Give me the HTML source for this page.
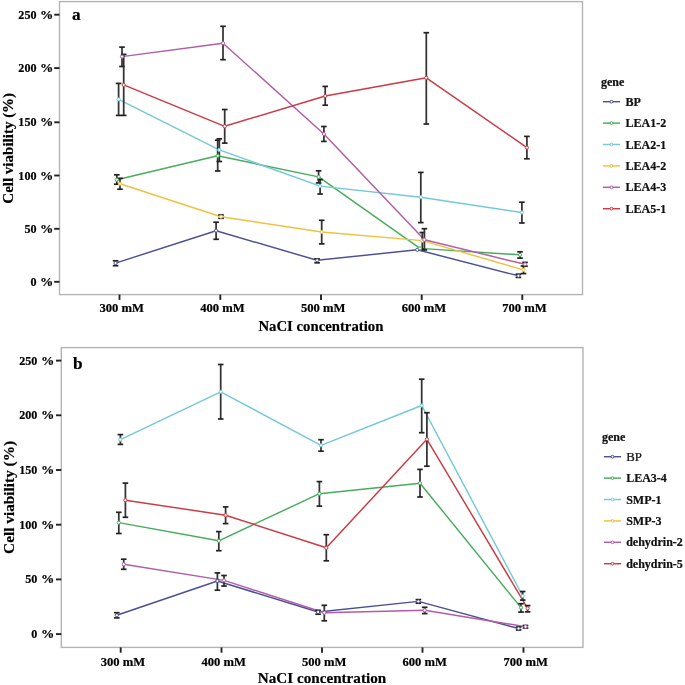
<!DOCTYPE html>
<html><head><meta charset="utf-8"><title>Cell viability chart</title>
<style>
html,body{margin:0;padding:0;background:#fff;}
body{width:685px;height:685px;overflow:hidden;font-family:"Liberation Serif",serif;}
svg{display:block;will-change:transform;}
text{stroke:#000;stroke-width:0.2px;}
</style></head>
<body>
<svg width="685" height="685" viewBox="0 0 685 685">
<rect x="0" y="0" width="685" height="685" fill="#fff"/>
<rect x="59.5" y="1.6" width="523.0" height="293.0" fill="#fff" stroke="#b4b4b4" stroke-width="1.4"/>
<line x1="54.2" y1="14.7" x2="59.5" y2="14.7" stroke="#222" stroke-width="1.9"/>
<text x="36.5" y="18.7" text-anchor="end" font-size="12.1" font-family="Liberation Serif" font-weight="bold" fill="#000">250</text>
<text transform="translate(53.2,18.7) scale(1.1,1)" x="0" y="0" text-anchor="end" font-size="12.1" font-family="Liberation Serif" font-weight="bold" fill="#000">%</text>
<line x1="54.2" y1="68.1" x2="59.5" y2="68.1" stroke="#222" stroke-width="1.9"/>
<text x="36.5" y="72.1" text-anchor="end" font-size="12.1" font-family="Liberation Serif" font-weight="bold" fill="#000">200</text>
<text transform="translate(53.2,72.1) scale(1.1,1)" x="0" y="0" text-anchor="end" font-size="12.1" font-family="Liberation Serif" font-weight="bold" fill="#000">%</text>
<line x1="54.2" y1="122.3" x2="59.5" y2="122.3" stroke="#222" stroke-width="1.9"/>
<text x="36.5" y="126.3" text-anchor="end" font-size="12.1" font-family="Liberation Serif" font-weight="bold" fill="#000">150</text>
<text transform="translate(53.2,126.3) scale(1.1,1)" x="0" y="0" text-anchor="end" font-size="12.1" font-family="Liberation Serif" font-weight="bold" fill="#000">%</text>
<line x1="54.2" y1="175.5" x2="59.5" y2="175.5" stroke="#222" stroke-width="1.9"/>
<text x="36.5" y="179.5" text-anchor="end" font-size="12.1" font-family="Liberation Serif" font-weight="bold" fill="#000">100</text>
<text transform="translate(53.2,179.5) scale(1.1,1)" x="0" y="0" text-anchor="end" font-size="12.1" font-family="Liberation Serif" font-weight="bold" fill="#000">%</text>
<line x1="54.2" y1="228.8" x2="59.5" y2="228.8" stroke="#222" stroke-width="1.9"/>
<text x="36.5" y="232.8" text-anchor="end" font-size="12.1" font-family="Liberation Serif" font-weight="bold" fill="#000">50</text>
<text transform="translate(53.2,232.8) scale(1.1,1)" x="0" y="0" text-anchor="end" font-size="12.1" font-family="Liberation Serif" font-weight="bold" fill="#000">%</text>
<line x1="54.2" y1="281.8" x2="59.5" y2="281.8" stroke="#222" stroke-width="1.9"/>
<text x="36.5" y="285.8" text-anchor="end" font-size="12.1" font-family="Liberation Serif" font-weight="bold" fill="#000">0</text>
<text transform="translate(53.2,285.8) scale(1.1,1)" x="0" y="0" text-anchor="end" font-size="12.1" font-family="Liberation Serif" font-weight="bold" fill="#000">%</text>
<line x1="119.5" y1="294.6" x2="119.5" y2="299.90000000000003" stroke="#222" stroke-width="1.9"/>
<text x="121.7" y="312.2" text-anchor="middle" font-size="12.1" textLength="44.5" lengthAdjust="spacingAndGlyphs" font-family="Liberation Serif" font-weight="bold" fill="#000">300 mM</text>
<line x1="220.3" y1="294.6" x2="220.3" y2="299.90000000000003" stroke="#222" stroke-width="1.9"/>
<text x="222.5" y="312.2" text-anchor="middle" font-size="12.1" textLength="44.5" lengthAdjust="spacingAndGlyphs" font-family="Liberation Serif" font-weight="bold" fill="#000">400 mM</text>
<line x1="321.0" y1="294.6" x2="321.0" y2="299.90000000000003" stroke="#222" stroke-width="1.9"/>
<text x="323.2" y="312.2" text-anchor="middle" font-size="12.1" textLength="44.5" lengthAdjust="spacingAndGlyphs" font-family="Liberation Serif" font-weight="bold" fill="#000">500 mM</text>
<line x1="421.7" y1="294.6" x2="421.7" y2="299.90000000000003" stroke="#222" stroke-width="1.9"/>
<text x="423.9" y="312.2" text-anchor="middle" font-size="12.1" textLength="44.5" lengthAdjust="spacingAndGlyphs" font-family="Liberation Serif" font-weight="bold" fill="#000">600 mM</text>
<line x1="522.3" y1="294.6" x2="522.3" y2="299.90000000000003" stroke="#222" stroke-width="1.9"/>
<text x="524.5" y="312.2" text-anchor="middle" font-size="12.1" textLength="44.5" lengthAdjust="spacingAndGlyphs" font-family="Liberation Serif" font-weight="bold" fill="#000">700 mM</text>
<text x="320.9" y="331.0" text-anchor="middle" font-size="14.75" font-family="Liberation Serif" font-weight="bold" fill="#000">NaCI concentration</text>
<text transform="translate(13.0,148.3) rotate(-90)" x="0" y="0" text-anchor="middle" font-size="15.0" font-family="Liberation Serif" font-weight="bold" fill="#000">Cell viability (%)</text>
<text x="72.0" y="20.0" font-size="17.3" font-family="Liberation Serif" font-weight="bold" fill="#000">a</text>
<polyline points="115.6,263.1 216.1,230.7 317.1,260.3 417.3,249.8 518.4,275.8" fill="none" stroke="#4c5096" stroke-width="1.45" stroke-linejoin="round"/>
<polyline points="116.8,179.7 217.7,155.8 318.6,176.9 420.0,248.4 520.0,254.8" fill="none" stroke="#48ac5c" stroke-width="1.45" stroke-linejoin="round"/>
<polyline points="118.6,99.4 219.3,149.9 320.1,186.1 420.8,197.2 521.9,212.5" fill="none" stroke="#74c8d8" stroke-width="1.45" stroke-linejoin="round"/>
<polyline points="120.0,183.7 221.0,216.7 321.7,232.0 422.3,240.6 523.5,269.9" fill="none" stroke="#f0c040" stroke-width="1.45" stroke-linejoin="round"/>
<polyline points="122.0,56.6 223.0,43.2 323.9,134.0 424.4,239.7 525.0,264.3" fill="none" stroke="#b25ca6" stroke-width="1.45" stroke-linejoin="round"/>
<polyline points="123.7,84.9 224.7,126.3 325.2,96.0 426.3,77.8 526.9,147.6" fill="none" stroke="#cc3a44" stroke-width="1.45" stroke-linejoin="round"/>
<line x1="115.6" y1="260.8" x2="115.6" y2="265.7" stroke="#333" stroke-width="1.75"/>
<line x1="112.8" y1="260.8" x2="118.39999999999999" y2="260.8" stroke="#222" stroke-width="1.7"/>
<line x1="112.8" y1="265.7" x2="118.39999999999999" y2="265.7" stroke="#222" stroke-width="1.7"/>
<line x1="216.1" y1="222.2" x2="216.1" y2="239.3" stroke="#333" stroke-width="1.75"/>
<line x1="213.29999999999998" y1="222.2" x2="218.9" y2="222.2" stroke="#222" stroke-width="1.7"/>
<line x1="213.29999999999998" y1="239.3" x2="218.9" y2="239.3" stroke="#222" stroke-width="1.7"/>
<line x1="317.1" y1="258.9" x2="317.1" y2="262.8" stroke="#333" stroke-width="1.75"/>
<line x1="314.3" y1="258.9" x2="319.90000000000003" y2="258.9" stroke="#222" stroke-width="1.7"/>
<line x1="314.3" y1="262.8" x2="319.90000000000003" y2="262.8" stroke="#222" stroke-width="1.7"/>
<line x1="518.4" y1="274.2" x2="518.4" y2="277.4" stroke="#333" stroke-width="1.75"/>
<line x1="515.6" y1="274.2" x2="521.1999999999999" y2="274.2" stroke="#222" stroke-width="1.7"/>
<line x1="515.6" y1="277.4" x2="521.1999999999999" y2="277.4" stroke="#222" stroke-width="1.7"/>
<line x1="116.8" y1="174.8" x2="116.8" y2="184.2" stroke="#333" stroke-width="1.75"/>
<line x1="114.0" y1="174.8" x2="119.6" y2="174.8" stroke="#222" stroke-width="1.7"/>
<line x1="114.0" y1="184.2" x2="119.6" y2="184.2" stroke="#222" stroke-width="1.7"/>
<line x1="217.7" y1="140.2" x2="217.7" y2="171.0" stroke="#333" stroke-width="1.75"/>
<line x1="214.89999999999998" y1="140.2" x2="220.5" y2="140.2" stroke="#222" stroke-width="1.7"/>
<line x1="214.89999999999998" y1="171.0" x2="220.5" y2="171.0" stroke="#222" stroke-width="1.7"/>
<line x1="318.6" y1="170.8" x2="318.6" y2="182.9" stroke="#333" stroke-width="1.75"/>
<line x1="315.8" y1="170.8" x2="321.40000000000003" y2="170.8" stroke="#222" stroke-width="1.7"/>
<line x1="315.8" y1="182.9" x2="321.40000000000003" y2="182.9" stroke="#222" stroke-width="1.7"/>
<line x1="520.0" y1="251.8" x2="520.0" y2="258.1" stroke="#333" stroke-width="1.75"/>
<line x1="517.2" y1="251.8" x2="522.8" y2="251.8" stroke="#222" stroke-width="1.7"/>
<line x1="517.2" y1="258.1" x2="522.8" y2="258.1" stroke="#222" stroke-width="1.7"/>
<line x1="118.6" y1="83.4" x2="118.6" y2="115.4" stroke="#333" stroke-width="1.75"/>
<line x1="115.8" y1="83.4" x2="121.39999999999999" y2="83.4" stroke="#222" stroke-width="1.7"/>
<line x1="115.8" y1="115.4" x2="121.39999999999999" y2="115.4" stroke="#222" stroke-width="1.7"/>
<line x1="219.3" y1="138.8" x2="219.3" y2="161.5" stroke="#333" stroke-width="1.75"/>
<line x1="216.5" y1="138.8" x2="222.10000000000002" y2="138.8" stroke="#222" stroke-width="1.7"/>
<line x1="216.5" y1="161.5" x2="222.10000000000002" y2="161.5" stroke="#222" stroke-width="1.7"/>
<line x1="320.1" y1="179.6" x2="320.1" y2="194.0" stroke="#333" stroke-width="1.75"/>
<line x1="317.3" y1="179.6" x2="322.90000000000003" y2="179.6" stroke="#222" stroke-width="1.7"/>
<line x1="317.3" y1="194.0" x2="322.90000000000003" y2="194.0" stroke="#222" stroke-width="1.7"/>
<line x1="420.8" y1="172.4" x2="420.8" y2="222.6" stroke="#333" stroke-width="1.75"/>
<line x1="418.0" y1="172.4" x2="423.6" y2="172.4" stroke="#222" stroke-width="1.7"/>
<line x1="418.0" y1="222.6" x2="423.6" y2="222.6" stroke="#222" stroke-width="1.7"/>
<line x1="521.9" y1="202.2" x2="521.9" y2="223.0" stroke="#333" stroke-width="1.75"/>
<line x1="519.1" y1="202.2" x2="524.6999999999999" y2="202.2" stroke="#222" stroke-width="1.7"/>
<line x1="519.1" y1="223.0" x2="524.6999999999999" y2="223.0" stroke="#222" stroke-width="1.7"/>
<line x1="120.0" y1="178.3" x2="120.0" y2="189.2" stroke="#333" stroke-width="1.75"/>
<line x1="117.2" y1="178.3" x2="122.8" y2="178.3" stroke="#222" stroke-width="1.7"/>
<line x1="117.2" y1="189.2" x2="122.8" y2="189.2" stroke="#222" stroke-width="1.7"/>
<line x1="221.0" y1="215.0" x2="221.0" y2="218.3" stroke="#333" stroke-width="1.75"/>
<line x1="218.2" y1="215.0" x2="223.8" y2="215.0" stroke="#222" stroke-width="1.7"/>
<line x1="218.2" y1="218.3" x2="223.8" y2="218.3" stroke="#222" stroke-width="1.7"/>
<line x1="321.7" y1="220.3" x2="321.7" y2="243.9" stroke="#333" stroke-width="1.75"/>
<line x1="318.9" y1="220.3" x2="324.5" y2="220.3" stroke="#222" stroke-width="1.7"/>
<line x1="318.9" y1="243.9" x2="324.5" y2="243.9" stroke="#222" stroke-width="1.7"/>
<line x1="422.3" y1="232.5" x2="422.3" y2="249.0" stroke="#333" stroke-width="1.75"/>
<line x1="419.5" y1="232.5" x2="425.1" y2="232.5" stroke="#222" stroke-width="1.7"/>
<line x1="419.5" y1="249.0" x2="425.1" y2="249.0" stroke="#222" stroke-width="1.7"/>
<line x1="523.5" y1="266.0" x2="523.5" y2="273.6" stroke="#333" stroke-width="1.75"/>
<line x1="520.7" y1="266.0" x2="526.3" y2="266.0" stroke="#222" stroke-width="1.7"/>
<line x1="520.7" y1="273.6" x2="526.3" y2="273.6" stroke="#222" stroke-width="1.7"/>
<line x1="122.0" y1="47.1" x2="122.0" y2="66.5" stroke="#333" stroke-width="1.75"/>
<line x1="119.2" y1="47.1" x2="124.8" y2="47.1" stroke="#222" stroke-width="1.7"/>
<line x1="119.2" y1="66.5" x2="124.8" y2="66.5" stroke="#222" stroke-width="1.7"/>
<line x1="223.0" y1="26.3" x2="223.0" y2="59.7" stroke="#333" stroke-width="1.75"/>
<line x1="220.2" y1="26.3" x2="225.8" y2="26.3" stroke="#222" stroke-width="1.7"/>
<line x1="220.2" y1="59.7" x2="225.8" y2="59.7" stroke="#222" stroke-width="1.7"/>
<line x1="323.9" y1="126.5" x2="323.9" y2="141.4" stroke="#333" stroke-width="1.75"/>
<line x1="321.09999999999997" y1="126.5" x2="326.7" y2="126.5" stroke="#222" stroke-width="1.7"/>
<line x1="321.09999999999997" y1="141.4" x2="326.7" y2="141.4" stroke="#222" stroke-width="1.7"/>
<line x1="424.4" y1="228.7" x2="424.4" y2="250.0" stroke="#333" stroke-width="1.75"/>
<line x1="421.59999999999997" y1="228.7" x2="427.2" y2="228.7" stroke="#222" stroke-width="1.7"/>
<line x1="421.59999999999997" y1="250.0" x2="427.2" y2="250.0" stroke="#222" stroke-width="1.7"/>
<line x1="525.0" y1="262.4" x2="525.0" y2="266.2" stroke="#333" stroke-width="1.75"/>
<line x1="522.2" y1="262.4" x2="527.8" y2="262.4" stroke="#222" stroke-width="1.7"/>
<line x1="522.2" y1="266.2" x2="527.8" y2="266.2" stroke="#222" stroke-width="1.7"/>
<line x1="123.7" y1="54.4" x2="123.7" y2="115.4" stroke="#333" stroke-width="1.75"/>
<line x1="120.9" y1="54.4" x2="126.5" y2="54.4" stroke="#222" stroke-width="1.7"/>
<line x1="120.9" y1="115.4" x2="126.5" y2="115.4" stroke="#222" stroke-width="1.7"/>
<line x1="224.7" y1="109.5" x2="224.7" y2="143.1" stroke="#333" stroke-width="1.75"/>
<line x1="221.89999999999998" y1="109.5" x2="227.5" y2="109.5" stroke="#222" stroke-width="1.7"/>
<line x1="221.89999999999998" y1="143.1" x2="227.5" y2="143.1" stroke="#222" stroke-width="1.7"/>
<line x1="325.2" y1="86.4" x2="325.2" y2="105.2" stroke="#333" stroke-width="1.75"/>
<line x1="322.4" y1="86.4" x2="328.0" y2="86.4" stroke="#222" stroke-width="1.7"/>
<line x1="322.4" y1="105.2" x2="328.0" y2="105.2" stroke="#222" stroke-width="1.7"/>
<line x1="426.3" y1="32.7" x2="426.3" y2="124.0" stroke="#333" stroke-width="1.75"/>
<line x1="423.5" y1="32.7" x2="429.1" y2="32.7" stroke="#222" stroke-width="1.7"/>
<line x1="423.5" y1="124.0" x2="429.1" y2="124.0" stroke="#222" stroke-width="1.7"/>
<line x1="526.9" y1="136.4" x2="526.9" y2="158.8" stroke="#333" stroke-width="1.75"/>
<line x1="524.1" y1="136.4" x2="529.6999999999999" y2="136.4" stroke="#222" stroke-width="1.7"/>
<line x1="524.1" y1="158.8" x2="529.6999999999999" y2="158.8" stroke="#222" stroke-width="1.7"/>
<circle cx="115.6" cy="263.1" r="1.6" fill="#fff" stroke="#4c5096" stroke-width="1.0"/>
<circle cx="216.1" cy="230.7" r="1.6" fill="#fff" stroke="#4c5096" stroke-width="1.0"/>
<circle cx="317.1" cy="260.3" r="1.6" fill="#fff" stroke="#4c5096" stroke-width="1.0"/>
<circle cx="417.3" cy="249.8" r="1.6" fill="#fff" stroke="#4c5096" stroke-width="1.0"/>
<circle cx="518.4" cy="275.8" r="1.6" fill="#fff" stroke="#4c5096" stroke-width="1.0"/>
<circle cx="116.8" cy="179.7" r="1.6" fill="#fff" stroke="#48ac5c" stroke-width="1.0"/>
<circle cx="217.7" cy="155.8" r="1.6" fill="#fff" stroke="#48ac5c" stroke-width="1.0"/>
<circle cx="318.6" cy="176.9" r="1.6" fill="#fff" stroke="#48ac5c" stroke-width="1.0"/>
<circle cx="420.0" cy="248.4" r="1.6" fill="#fff" stroke="#48ac5c" stroke-width="1.0"/>
<circle cx="520.0" cy="254.8" r="1.6" fill="#fff" stroke="#48ac5c" stroke-width="1.0"/>
<circle cx="118.6" cy="99.4" r="1.6" fill="#fff" stroke="#74c8d8" stroke-width="1.0"/>
<circle cx="219.3" cy="149.9" r="1.6" fill="#fff" stroke="#74c8d8" stroke-width="1.0"/>
<circle cx="320.1" cy="186.1" r="1.6" fill="#fff" stroke="#74c8d8" stroke-width="1.0"/>
<circle cx="420.8" cy="197.2" r="1.6" fill="#fff" stroke="#74c8d8" stroke-width="1.0"/>
<circle cx="521.9" cy="212.5" r="1.6" fill="#fff" stroke="#74c8d8" stroke-width="1.0"/>
<circle cx="120.0" cy="183.7" r="1.6" fill="#fff" stroke="#f0c040" stroke-width="1.0"/>
<circle cx="221.0" cy="216.7" r="1.6" fill="#fff" stroke="#f0c040" stroke-width="1.0"/>
<circle cx="321.7" cy="232.0" r="1.6" fill="#fff" stroke="#f0c040" stroke-width="1.0"/>
<circle cx="422.3" cy="240.6" r="1.6" fill="#fff" stroke="#f0c040" stroke-width="1.0"/>
<circle cx="523.5" cy="269.9" r="1.6" fill="#fff" stroke="#f0c040" stroke-width="1.0"/>
<circle cx="122.0" cy="56.6" r="1.6" fill="#fff" stroke="#b25ca6" stroke-width="1.0"/>
<circle cx="223.0" cy="43.2" r="1.6" fill="#fff" stroke="#b25ca6" stroke-width="1.0"/>
<circle cx="323.9" cy="134.0" r="1.6" fill="#fff" stroke="#b25ca6" stroke-width="1.0"/>
<circle cx="424.4" cy="239.7" r="1.6" fill="#fff" stroke="#b25ca6" stroke-width="1.0"/>
<circle cx="525.0" cy="264.3" r="1.6" fill="#fff" stroke="#b25ca6" stroke-width="1.0"/>
<circle cx="123.7" cy="84.9" r="1.6" fill="#fff" stroke="#cc3a44" stroke-width="1.0"/>
<circle cx="224.7" cy="126.3" r="1.6" fill="#fff" stroke="#cc3a44" stroke-width="1.0"/>
<circle cx="325.2" cy="96.0" r="1.6" fill="#fff" stroke="#cc3a44" stroke-width="1.0"/>
<circle cx="426.3" cy="77.8" r="1.6" fill="#fff" stroke="#cc3a44" stroke-width="1.0"/>
<circle cx="526.9" cy="147.6" r="1.6" fill="#fff" stroke="#cc3a44" stroke-width="1.0"/>
<text x="601.0" y="85.8" font-size="12" font-family="Liberation Serif" font-weight="bold" fill="#111">gene</text>
<line x1="602.9" y1="101.7" x2="620.1" y2="101.7" stroke="#4c5096" stroke-width="1.45"/>
<circle cx="611.5" cy="101.7" r="1.4" fill="#fff" stroke="#4c5096" stroke-width="1.0"/>
<text x="625.5" y="105.8" font-size="12" font-family="Liberation Serif" font-weight="bold" fill="#111">BP</text>
<line x1="602.9" y1="123.1" x2="620.1" y2="123.1" stroke="#48ac5c" stroke-width="1.45"/>
<circle cx="611.5" cy="123.1" r="1.4" fill="#fff" stroke="#48ac5c" stroke-width="1.0"/>
<text x="625.5" y="127.19999999999999" font-size="12" font-family="Liberation Serif" font-weight="bold" fill="#111">LEA1-2</text>
<line x1="602.9" y1="144.5" x2="620.1" y2="144.5" stroke="#74c8d8" stroke-width="1.45"/>
<circle cx="611.5" cy="144.5" r="1.4" fill="#fff" stroke="#74c8d8" stroke-width="1.0"/>
<text x="625.5" y="148.6" font-size="12" font-family="Liberation Serif" font-weight="bold" fill="#111">LEA2-1</text>
<line x1="602.9" y1="165.9" x2="620.1" y2="165.9" stroke="#f0c040" stroke-width="1.45"/>
<circle cx="611.5" cy="165.9" r="1.4" fill="#fff" stroke="#f0c040" stroke-width="1.0"/>
<text x="625.5" y="170.0" font-size="12" font-family="Liberation Serif" font-weight="bold" fill="#111">LEA4-2</text>
<line x1="602.9" y1="187.29999999999998" x2="620.1" y2="187.29999999999998" stroke="#b25ca6" stroke-width="1.45"/>
<circle cx="611.5" cy="187.29999999999998" r="1.4" fill="#fff" stroke="#b25ca6" stroke-width="1.0"/>
<text x="625.5" y="191.39999999999998" font-size="12" font-family="Liberation Serif" font-weight="bold" fill="#111">LEA4-3</text>
<line x1="602.9" y1="208.70000000000002" x2="620.1" y2="208.70000000000002" stroke="#cc3a44" stroke-width="1.45"/>
<circle cx="611.5" cy="208.70000000000002" r="1.4" fill="#fff" stroke="#cc3a44" stroke-width="1.0"/>
<text x="625.5" y="212.8" font-size="12" font-family="Liberation Serif" font-weight="bold" fill="#111">LEA5-1</text>
<rect x="61.3" y="347.6" width="521.7" height="299.79999999999995" fill="#fff" stroke="#b4b4b4" stroke-width="1.4"/>
<line x1="56.0" y1="360.6" x2="61.3" y2="360.6" stroke="#222" stroke-width="1.9"/>
<text x="37.3" y="364.6" text-anchor="end" font-size="12.1" font-family="Liberation Serif" font-weight="bold" fill="#000">250</text>
<text transform="translate(54.3,364.6) scale(1.1,1)" x="0" y="0" text-anchor="end" font-size="12.1" font-family="Liberation Serif" font-weight="bold" fill="#000">%</text>
<line x1="56.0" y1="415.3" x2="61.3" y2="415.3" stroke="#222" stroke-width="1.9"/>
<text x="37.3" y="419.3" text-anchor="end" font-size="12.1" font-family="Liberation Serif" font-weight="bold" fill="#000">200</text>
<text transform="translate(54.3,419.3) scale(1.1,1)" x="0" y="0" text-anchor="end" font-size="12.1" font-family="Liberation Serif" font-weight="bold" fill="#000">%</text>
<line x1="56.0" y1="470.0" x2="61.3" y2="470.0" stroke="#222" stroke-width="1.9"/>
<text x="37.3" y="474.0" text-anchor="end" font-size="12.1" font-family="Liberation Serif" font-weight="bold" fill="#000">150</text>
<text transform="translate(54.3,474.0) scale(1.1,1)" x="0" y="0" text-anchor="end" font-size="12.1" font-family="Liberation Serif" font-weight="bold" fill="#000">%</text>
<line x1="56.0" y1="524.7" x2="61.3" y2="524.7" stroke="#222" stroke-width="1.9"/>
<text x="37.3" y="528.7" text-anchor="end" font-size="12.1" font-family="Liberation Serif" font-weight="bold" fill="#000">100</text>
<text transform="translate(54.3,528.7) scale(1.1,1)" x="0" y="0" text-anchor="end" font-size="12.1" font-family="Liberation Serif" font-weight="bold" fill="#000">%</text>
<line x1="56.0" y1="579.4" x2="61.3" y2="579.4" stroke="#222" stroke-width="1.9"/>
<text x="37.3" y="583.4" text-anchor="end" font-size="12.1" font-family="Liberation Serif" font-weight="bold" fill="#000">50</text>
<text transform="translate(54.3,583.4) scale(1.1,1)" x="0" y="0" text-anchor="end" font-size="12.1" font-family="Liberation Serif" font-weight="bold" fill="#000">%</text>
<line x1="56.0" y1="634.1" x2="61.3" y2="634.1" stroke="#222" stroke-width="1.9"/>
<text x="37.3" y="638.1" text-anchor="end" font-size="12.1" font-family="Liberation Serif" font-weight="bold" fill="#000">0</text>
<text transform="translate(54.3,638.1) scale(1.1,1)" x="0" y="0" text-anchor="end" font-size="12.1" font-family="Liberation Serif" font-weight="bold" fill="#000">%</text>
<line x1="120.7" y1="647.4" x2="120.7" y2="652.6999999999999" stroke="#222" stroke-width="1.9"/>
<text x="122.9" y="665.7" text-anchor="middle" font-size="12.1" textLength="44.5" lengthAdjust="spacingAndGlyphs" font-family="Liberation Serif" font-weight="bold" fill="#000">300 mM</text>
<line x1="221.5" y1="647.4" x2="221.5" y2="652.6999999999999" stroke="#222" stroke-width="1.9"/>
<text x="223.7" y="665.7" text-anchor="middle" font-size="12.1" textLength="44.5" lengthAdjust="spacingAndGlyphs" font-family="Liberation Serif" font-weight="bold" fill="#000">400 mM</text>
<line x1="322.0" y1="647.4" x2="322.0" y2="652.6999999999999" stroke="#222" stroke-width="1.9"/>
<text x="324.2" y="665.7" text-anchor="middle" font-size="12.1" textLength="44.5" lengthAdjust="spacingAndGlyphs" font-family="Liberation Serif" font-weight="bold" fill="#000">500 mM</text>
<line x1="422.5" y1="647.4" x2="422.5" y2="652.6999999999999" stroke="#222" stroke-width="1.9"/>
<text x="424.7" y="665.7" text-anchor="middle" font-size="12.1" textLength="44.5" lengthAdjust="spacingAndGlyphs" font-family="Liberation Serif" font-weight="bold" fill="#000">600 mM</text>
<line x1="523.5" y1="647.4" x2="523.5" y2="652.6999999999999" stroke="#222" stroke-width="1.9"/>
<text x="525.7" y="665.7" text-anchor="middle" font-size="12.1" textLength="44.5" lengthAdjust="spacingAndGlyphs" font-family="Liberation Serif" font-weight="bold" fill="#000">700 mM</text>
<text x="322.0" y="682.8" text-anchor="middle" font-size="15.15" font-family="Liberation Serif" font-weight="bold" fill="#000">NaCI concentration</text>
<text transform="translate(13.6,497.4) rotate(-90)" x="0" y="0" text-anchor="middle" font-size="15.3" font-family="Liberation Serif" font-weight="bold" fill="#000">Cell viability (%)</text>
<text x="73.0" y="368.5" font-size="17.3" font-family="Liberation Serif" font-weight="bold" fill="#000">b</text>
<polyline points="116.8,615.3 217.4,581.0 318.1,612.0 418.4,601.4 518.6,628.5" fill="none" stroke="#4c5096" stroke-width="1.45" stroke-linejoin="round"/>
<polyline points="118.8,522.6 218.8,540.8 319.4,493.7 420.0,483.2 521.0,607.6" fill="none" stroke="#48ac5c" stroke-width="1.45" stroke-linejoin="round"/>
<polyline points="120.4,439.6 220.7,391.8 321.0,445.3 421.7,405.5 522.7,596.0" fill="none" stroke="#74c8d8" stroke-width="1.45" stroke-linejoin="round"/>
<polyline points="123.7,564.3 224.0,580.4 324.3,612.7 424.7,610.3 525.5,626.7" fill="none" stroke="#b25ca6" stroke-width="1.45" stroke-linejoin="round"/>
<polyline points="125.4,500.2 225.6,515.2 326.3,547.8 426.9,439.3 527.6,608.3" fill="none" stroke="#cc3a44" stroke-width="1.45" stroke-linejoin="round"/>
<line x1="116.8" y1="612.7" x2="116.8" y2="617.9" stroke="#333" stroke-width="1.75"/>
<line x1="114.0" y1="612.7" x2="119.6" y2="612.7" stroke="#222" stroke-width="1.7"/>
<line x1="114.0" y1="617.9" x2="119.6" y2="617.9" stroke="#222" stroke-width="1.7"/>
<line x1="217.4" y1="572.9" x2="217.4" y2="590.2" stroke="#333" stroke-width="1.75"/>
<line x1="214.6" y1="572.9" x2="220.20000000000002" y2="572.9" stroke="#222" stroke-width="1.7"/>
<line x1="214.6" y1="590.2" x2="220.20000000000002" y2="590.2" stroke="#222" stroke-width="1.7"/>
<line x1="318.1" y1="610.3" x2="318.1" y2="614.2" stroke="#333" stroke-width="1.75"/>
<line x1="315.3" y1="610.3" x2="320.90000000000003" y2="610.3" stroke="#222" stroke-width="1.7"/>
<line x1="315.3" y1="614.2" x2="320.90000000000003" y2="614.2" stroke="#222" stroke-width="1.7"/>
<line x1="418.4" y1="599.6" x2="418.4" y2="603.2" stroke="#333" stroke-width="1.75"/>
<line x1="415.59999999999997" y1="599.6" x2="421.2" y2="599.6" stroke="#222" stroke-width="1.7"/>
<line x1="415.59999999999997" y1="603.2" x2="421.2" y2="603.2" stroke="#222" stroke-width="1.7"/>
<line x1="518.6" y1="627.0" x2="518.6" y2="630.0" stroke="#333" stroke-width="1.75"/>
<line x1="515.8000000000001" y1="627.0" x2="521.4" y2="627.0" stroke="#222" stroke-width="1.7"/>
<line x1="515.8000000000001" y1="630.0" x2="521.4" y2="630.0" stroke="#222" stroke-width="1.7"/>
<line x1="118.8" y1="512.3" x2="118.8" y2="533.5" stroke="#333" stroke-width="1.75"/>
<line x1="116.0" y1="512.3" x2="121.6" y2="512.3" stroke="#222" stroke-width="1.7"/>
<line x1="116.0" y1="533.5" x2="121.6" y2="533.5" stroke="#222" stroke-width="1.7"/>
<line x1="218.8" y1="531.6" x2="218.8" y2="550.7" stroke="#333" stroke-width="1.75"/>
<line x1="216.0" y1="531.6" x2="221.60000000000002" y2="531.6" stroke="#222" stroke-width="1.7"/>
<line x1="216.0" y1="550.7" x2="221.60000000000002" y2="550.7" stroke="#222" stroke-width="1.7"/>
<line x1="319.4" y1="481.6" x2="319.4" y2="506.1" stroke="#333" stroke-width="1.75"/>
<line x1="316.59999999999997" y1="481.6" x2="322.2" y2="481.6" stroke="#222" stroke-width="1.7"/>
<line x1="316.59999999999997" y1="506.1" x2="322.2" y2="506.1" stroke="#222" stroke-width="1.7"/>
<line x1="420.0" y1="469.4" x2="420.0" y2="497.0" stroke="#333" stroke-width="1.75"/>
<line x1="417.2" y1="469.4" x2="422.8" y2="469.4" stroke="#222" stroke-width="1.7"/>
<line x1="417.2" y1="497.0" x2="422.8" y2="497.0" stroke="#222" stroke-width="1.7"/>
<line x1="521.0" y1="603.7" x2="521.0" y2="612.1" stroke="#333" stroke-width="1.75"/>
<line x1="518.2" y1="603.7" x2="523.8" y2="603.7" stroke="#222" stroke-width="1.7"/>
<line x1="518.2" y1="612.1" x2="523.8" y2="612.1" stroke="#222" stroke-width="1.7"/>
<line x1="120.4" y1="434.6" x2="120.4" y2="444.4" stroke="#333" stroke-width="1.75"/>
<line x1="117.60000000000001" y1="434.6" x2="123.2" y2="434.6" stroke="#222" stroke-width="1.7"/>
<line x1="117.60000000000001" y1="444.4" x2="123.2" y2="444.4" stroke="#222" stroke-width="1.7"/>
<line x1="220.7" y1="364.5" x2="220.7" y2="419.0" stroke="#333" stroke-width="1.75"/>
<line x1="217.89999999999998" y1="364.5" x2="223.5" y2="364.5" stroke="#222" stroke-width="1.7"/>
<line x1="217.89999999999998" y1="419.0" x2="223.5" y2="419.0" stroke="#222" stroke-width="1.7"/>
<line x1="321.0" y1="439.7" x2="321.0" y2="451.2" stroke="#333" stroke-width="1.75"/>
<line x1="318.2" y1="439.7" x2="323.8" y2="439.7" stroke="#222" stroke-width="1.7"/>
<line x1="318.2" y1="451.2" x2="323.8" y2="451.2" stroke="#222" stroke-width="1.7"/>
<line x1="421.7" y1="379.2" x2="421.7" y2="432.7" stroke="#333" stroke-width="1.75"/>
<line x1="418.9" y1="379.2" x2="424.5" y2="379.2" stroke="#222" stroke-width="1.7"/>
<line x1="418.9" y1="432.7" x2="424.5" y2="432.7" stroke="#222" stroke-width="1.7"/>
<line x1="522.7" y1="591.5" x2="522.7" y2="600.1" stroke="#333" stroke-width="1.75"/>
<line x1="519.9000000000001" y1="591.5" x2="525.5" y2="591.5" stroke="#222" stroke-width="1.7"/>
<line x1="519.9000000000001" y1="600.1" x2="525.5" y2="600.1" stroke="#222" stroke-width="1.7"/>
<line x1="123.7" y1="559.2" x2="123.7" y2="569.3" stroke="#333" stroke-width="1.75"/>
<line x1="120.9" y1="559.2" x2="126.5" y2="559.2" stroke="#222" stroke-width="1.7"/>
<line x1="120.9" y1="569.3" x2="126.5" y2="569.3" stroke="#222" stroke-width="1.7"/>
<line x1="224.0" y1="575.5" x2="224.0" y2="586.0" stroke="#333" stroke-width="1.75"/>
<line x1="221.2" y1="575.5" x2="226.8" y2="575.5" stroke="#222" stroke-width="1.7"/>
<line x1="221.2" y1="586.0" x2="226.8" y2="586.0" stroke="#222" stroke-width="1.7"/>
<line x1="324.3" y1="605.3" x2="324.3" y2="620.8" stroke="#333" stroke-width="1.75"/>
<line x1="321.5" y1="605.3" x2="327.1" y2="605.3" stroke="#222" stroke-width="1.7"/>
<line x1="321.5" y1="620.8" x2="327.1" y2="620.8" stroke="#222" stroke-width="1.7"/>
<line x1="424.7" y1="607.3" x2="424.7" y2="613.6" stroke="#333" stroke-width="1.75"/>
<line x1="421.9" y1="607.3" x2="427.5" y2="607.3" stroke="#222" stroke-width="1.7"/>
<line x1="421.9" y1="613.6" x2="427.5" y2="613.6" stroke="#222" stroke-width="1.7"/>
<line x1="525.5" y1="625.5" x2="525.5" y2="628.0" stroke="#333" stroke-width="1.75"/>
<line x1="522.7" y1="625.5" x2="528.3" y2="625.5" stroke="#222" stroke-width="1.7"/>
<line x1="522.7" y1="628.0" x2="528.3" y2="628.0" stroke="#222" stroke-width="1.7"/>
<line x1="125.4" y1="483.1" x2="125.4" y2="517.3" stroke="#333" stroke-width="1.75"/>
<line x1="122.60000000000001" y1="483.1" x2="128.20000000000002" y2="483.1" stroke="#222" stroke-width="1.7"/>
<line x1="122.60000000000001" y1="517.3" x2="128.20000000000002" y2="517.3" stroke="#222" stroke-width="1.7"/>
<line x1="225.6" y1="506.9" x2="225.6" y2="523.6" stroke="#333" stroke-width="1.75"/>
<line x1="222.79999999999998" y1="506.9" x2="228.4" y2="506.9" stroke="#222" stroke-width="1.7"/>
<line x1="222.79999999999998" y1="523.6" x2="228.4" y2="523.6" stroke="#222" stroke-width="1.7"/>
<line x1="326.3" y1="534.7" x2="326.3" y2="560.8" stroke="#333" stroke-width="1.75"/>
<line x1="323.5" y1="534.7" x2="329.1" y2="534.7" stroke="#222" stroke-width="1.7"/>
<line x1="323.5" y1="560.8" x2="329.1" y2="560.8" stroke="#222" stroke-width="1.7"/>
<line x1="426.9" y1="412.7" x2="426.9" y2="466.2" stroke="#333" stroke-width="1.75"/>
<line x1="424.09999999999997" y1="412.7" x2="429.7" y2="412.7" stroke="#222" stroke-width="1.7"/>
<line x1="424.09999999999997" y1="466.2" x2="429.7" y2="466.2" stroke="#222" stroke-width="1.7"/>
<line x1="527.6" y1="605.6" x2="527.6" y2="611.9" stroke="#333" stroke-width="1.75"/>
<line x1="524.8000000000001" y1="605.6" x2="530.4" y2="605.6" stroke="#222" stroke-width="1.7"/>
<line x1="524.8000000000001" y1="611.9" x2="530.4" y2="611.9" stroke="#222" stroke-width="1.7"/>
<circle cx="116.8" cy="615.3" r="1.6" fill="#fff" stroke="#4c5096" stroke-width="1.0"/>
<circle cx="217.4" cy="581.0" r="1.6" fill="#fff" stroke="#4c5096" stroke-width="1.0"/>
<circle cx="318.1" cy="612.0" r="1.6" fill="#fff" stroke="#4c5096" stroke-width="1.0"/>
<circle cx="418.4" cy="601.4" r="1.6" fill="#fff" stroke="#4c5096" stroke-width="1.0"/>
<circle cx="518.6" cy="628.5" r="1.6" fill="#fff" stroke="#4c5096" stroke-width="1.0"/>
<circle cx="118.8" cy="522.6" r="1.6" fill="#fff" stroke="#48ac5c" stroke-width="1.0"/>
<circle cx="218.8" cy="540.8" r="1.6" fill="#fff" stroke="#48ac5c" stroke-width="1.0"/>
<circle cx="319.4" cy="493.7" r="1.6" fill="#fff" stroke="#48ac5c" stroke-width="1.0"/>
<circle cx="420.0" cy="483.2" r="1.6" fill="#fff" stroke="#48ac5c" stroke-width="1.0"/>
<circle cx="521.0" cy="607.6" r="1.6" fill="#fff" stroke="#48ac5c" stroke-width="1.0"/>
<circle cx="120.4" cy="439.6" r="1.6" fill="#fff" stroke="#74c8d8" stroke-width="1.0"/>
<circle cx="220.7" cy="391.8" r="1.6" fill="#fff" stroke="#74c8d8" stroke-width="1.0"/>
<circle cx="321.0" cy="445.3" r="1.6" fill="#fff" stroke="#74c8d8" stroke-width="1.0"/>
<circle cx="421.7" cy="405.5" r="1.6" fill="#fff" stroke="#74c8d8" stroke-width="1.0"/>
<circle cx="522.7" cy="596.0" r="1.6" fill="#fff" stroke="#74c8d8" stroke-width="1.0"/>
<circle cx="123.7" cy="564.3" r="1.6" fill="#fff" stroke="#b25ca6" stroke-width="1.0"/>
<circle cx="224.0" cy="580.4" r="1.6" fill="#fff" stroke="#b25ca6" stroke-width="1.0"/>
<circle cx="324.3" cy="612.7" r="1.6" fill="#fff" stroke="#b25ca6" stroke-width="1.0"/>
<circle cx="424.7" cy="610.3" r="1.6" fill="#fff" stroke="#b25ca6" stroke-width="1.0"/>
<circle cx="525.5" cy="626.7" r="1.6" fill="#fff" stroke="#b25ca6" stroke-width="1.0"/>
<circle cx="125.4" cy="500.2" r="1.6" fill="#fff" stroke="#cc3a44" stroke-width="1.0"/>
<circle cx="225.6" cy="515.2" r="1.6" fill="#fff" stroke="#cc3a44" stroke-width="1.0"/>
<circle cx="326.3" cy="547.8" r="1.6" fill="#fff" stroke="#cc3a44" stroke-width="1.0"/>
<circle cx="426.9" cy="439.3" r="1.6" fill="#fff" stroke="#cc3a44" stroke-width="1.0"/>
<circle cx="527.6" cy="608.3" r="1.6" fill="#fff" stroke="#cc3a44" stroke-width="1.0"/>
<text x="602.0" y="440.5" font-size="12" font-family="Liberation Serif" font-weight="bold" fill="#111">gene</text>
<line x1="603.9" y1="456.7" x2="621.1" y2="456.7" stroke="#4c5096" stroke-width="1.45"/>
<circle cx="612.5" cy="456.7" r="1.4" fill="#fff" stroke="#4c5096" stroke-width="1.0"/>
<text x="626.2" y="460.8" font-size="12.8" font-family="Liberation Serif" font-weight="normal" fill="#111">BP</text>
<line x1="603.9" y1="478.09999999999997" x2="621.1" y2="478.09999999999997" stroke="#48ac5c" stroke-width="1.45"/>
<circle cx="612.5" cy="478.09999999999997" r="1.4" fill="#fff" stroke="#48ac5c" stroke-width="1.0"/>
<text x="626.2" y="482.2" font-size="12" font-family="Liberation Serif" font-weight="bold" fill="#111">LEA3-4</text>
<line x1="603.9" y1="499.5" x2="621.1" y2="499.5" stroke="#74c8d8" stroke-width="1.45"/>
<circle cx="612.5" cy="499.5" r="1.4" fill="#fff" stroke="#74c8d8" stroke-width="1.0"/>
<text x="626.2" y="503.6" font-size="12" font-family="Liberation Serif" font-weight="bold" fill="#111">SMP-1</text>
<line x1="603.9" y1="520.9" x2="621.1" y2="520.9" stroke="#f0c040" stroke-width="1.45"/>
<circle cx="612.5" cy="520.9" r="1.4" fill="#fff" stroke="#f0c040" stroke-width="1.0"/>
<text x="626.2" y="525.0" font-size="12" font-family="Liberation Serif" font-weight="bold" fill="#111">SMP-3</text>
<line x1="603.9" y1="542.3" x2="621.1" y2="542.3" stroke="#b25ca6" stroke-width="1.45"/>
<circle cx="612.5" cy="542.3" r="1.4" fill="#fff" stroke="#b25ca6" stroke-width="1.0"/>
<text x="626.2" y="546.4" font-size="12" font-family="Liberation Serif" font-weight="bold" fill="#111">dehydrin-2</text>
<line x1="603.9" y1="563.6999999999999" x2="621.1" y2="563.6999999999999" stroke="#cc3a44" stroke-width="1.45"/>
<circle cx="612.5" cy="563.6999999999999" r="1.4" fill="#fff" stroke="#cc3a44" stroke-width="1.0"/>
<text x="626.2" y="567.8" font-size="12" font-family="Liberation Serif" font-weight="bold" fill="#111">dehydrin-5</text>
</svg>
</body></html>
